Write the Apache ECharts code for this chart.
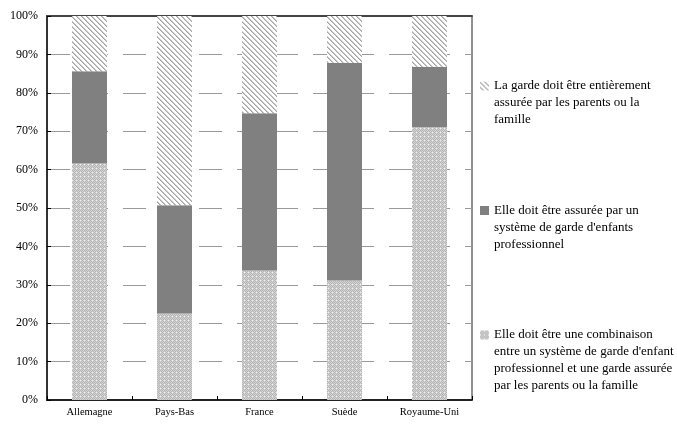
<!DOCTYPE html>
<html>
<head>
<meta charset="utf-8">
<script src="https://cdn.jsdelivr.net/npm/echarts@6/dist/echarts.min.js"></script>
<style>
html,body{margin:0;padding:0;background:#fff;}
#c{width:677px;height:424px;}
</style>
</head>
<body>
<div id="c"></div>
<script>
var categories = ['Allemagne', 'Pays-Bas', 'France', 'Suède', 'Royaume-Uni'];
var combinaison = [61.6, 22.5, 33.7, 31.1, 71.0];
var professionnel = [24.0, 28.2, 41.0, 56.7, 15.8];
var parents = [14.4, 49.3, 25.3, 12.2, 13.2];
var seriesNames = [
  "La garde doit être entièrement assurée par les parents ou la famille",
  "Elle doit être assurée par un système de garde d'enfants professionnel",
  "Elle doit être une combinaison entre un système de garde d'enfant professionnel et une garde assurée par les parents ou la famille"
];
var legendLabels = [
  "La garde doit être entièrement\nassurée par les parents ou la\nfamille",
  "Elle doit être assurée par un\nsystème de garde d'enfants\nprofessionnel",
  "Elle doit être une combinaison\nentre un système de garde d'enfant\nprofessionnel et une garde assurée\npar les parents ou la famille"
];
var yTicks = [0, 10, 20, 30, 40, 50, 60, 70, 80, 90, 100];

function makeTile(n, fn) {
  var cv = document.createElement('canvas');
  cv.width = n; cv.height = n;
  var ctx = cv.getContext('2d');
  var img = ctx.createImageData(n, n);
  for (var y = 0; y < n; y++) {
    for (var x = 0; x < n; x++) {
      var v = fn(x, y);
      var i = (y * n + x) * 4;
      img.data[i] = v; img.data[i + 1] = v; img.data[i + 2] = v; img.data[i + 3] = 255;
    }
  }
  ctx.putImageData(img, 0, 0);
  return cv;
}
var stripeTile = makeTile(5, function (x, y) {
  var d = ((x - y) % 5 + 5) % 5;
  if (d === 0) return 165;
  if (d === 1) return 200;
  return 255;
});
var checkTile = makeTile(4, function (x, y) {
  if (x % 4 === 0 && y % 4 === 0) return 240;
  return ((x + y) % 2 === 0) ? 180 : 212;
});

var font = '"Liberation Serif", "Times New Roman", serif';
var LH = 17;
var chart = echarts.init(document.getElementById('c'), null, {renderer: 'canvas'});

function legendFor(idx, top, lines) {
  var h = lines * LH;
  return {
    orient: 'vertical',
    left: 480,
    top: top,
    padding: 0,
    itemWidth: 9,
    itemHeight: h,
    icon: 'path://M0 0M0 4L9 4L9 13L0 13Z M0 ' + h,
    data: [seriesNames[idx]],
    formatter: function (name) { return legendLabels[seriesNames.indexOf(name)]; },
    textStyle: {fontFamily: font, fontSize: 13, color: '#000', lineHeight: LH}
  };
}

chart.setOption({
  animation: false,
  backgroundColor: '#fff',
  grid: {left: 47, right: 205, top: 16, bottom: 24, show: true, borderColor: '#222', borderWidth: 1, containLabel: false},
  legend: [
    legendFor(0, 77.5, 3),
    legendFor(1, 202, 3),
    legendFor(2, 326.5, 4)
  ],
  xAxis: [{
    type: 'category',
    data: categories,
    axisLine: {lineStyle: {color: '#222', width: 2}},
    axisTick: {show: true, inside: true, length: 4, lineStyle: {color: '#000', width: 1}},
    axisLabel: {fontFamily: font, fontSize: 10.5, color: '#000', margin: 7}
  }, {
    type: 'category',
    data: categories,
    position: 'top',
    axisLine: {lineStyle: {color: '#444', width: 2}},
    axisTick: {show: false},
    axisLabel: {show: false}
  }],
  yAxis: {
    type: 'value',
    min: yTicks[0],
    max: yTicks[yTicks.length - 1],
    interval: 10,
    axisLine: {show: true, lineStyle: {color: '#333', width: 2}},
    axisTick: {show: true, inside: true, length: 4, lineStyle: {color: '#000'}},
    axisLabel: {fontFamily: font, fontSize: 12, color: '#000', margin: 9, formatter: '{value}%'},
    splitLine: {show: true, lineStyle: {color: '#9a9a9a', width: 1, type: [23, 15], dashOffset: 0}}
  },
  series: [{
    name: seriesNames[2],
    type: 'bar',
    stack: 's',
    barWidth: 35,
    data: combinaison,
    itemStyle: {color: {image: checkTile, repeat: 'repeat'}}
  }, {
    name: seriesNames[1],
    type: 'bar',
    stack: 's',
    barWidth: 35,
    data: professionnel,
    itemStyle: {color: '#808080'}
  }, {
    name: seriesNames[0],
    type: 'bar',
    stack: 's',
    barWidth: 35,
    data: parents,
    itemStyle: {color: {image: stripeTile, repeat: 'repeat'}}
  }]
});
</script>
</body>
</html>
